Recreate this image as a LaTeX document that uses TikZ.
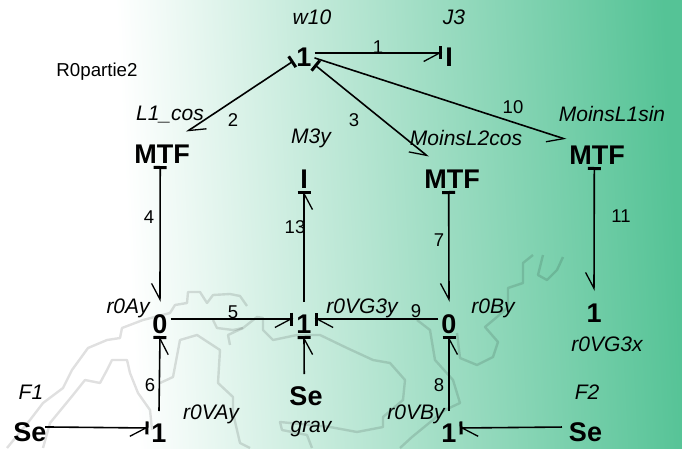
\documentclass[tikz,border=0pt]{standalone}
\usepackage{fontspec}
\setmainfont{Liberation Sans}
\usetikzlibrary{arrows.meta}
\definecolor{mapgreen}{RGB}{85,195,150}
\pgfdeclarehorizontalshading{panelbg}{100bp}{color(0bp)=(white);color(34bp)=(white);color(75bp)=(mapgreen);color(100bp)=(mapgreen)}

\begin{document}
\begin{tikzpicture}[
  x=1pt,y=-1pt,
  stroke/.tip={Bar[width=13pt,line width=3pt,length=0pt]},
  barb/.tip={Straight Barb[harpoon,swap,length=16pt,width=17pt,line width=1.3pt]},
  barbl/.tip={Straight Barb[harpoon,length=16pt,width=17pt,line width=1.3pt]},
  elem/.style={inner sep=0pt,outer sep=3pt,anchor=south,yshift=-3pt,text height=28pt,text depth=0pt,
               font=\bfseries\fontsize{27}{27}\selectfont},
  lab/.style={inner sep=0pt,font=\itshape\fontsize{21}{21}\selectfont},
  num/.style={inner sep=0pt,font=\fontsize{18.5}{18.5}\selectfont},
  bond/.style={line width=1.6pt,-{barb}},
  bondl/.style={line width=1.6pt,-{barbl}},
  bondbar/.style={line width=1.6pt,-{barb[sep=-3pt]stroke}},
  bondlbar/.style={line width=1.6pt,-{barbl[sep=-3pt]stroke}},
  contour/.style={draw=black,opacity=0.12,line width=2.4pt,line join=round}
]

% ---- background ----
\shade[shading=panelbg,shading angle=3] (0,0) rectangle (682,448);
\draw[contour] (7,448) -- (30,420) -- (43,403) -- (63,388) -- (72,370) -- (88,348) -- (107,340)
  -- (120,338) -- (122,328) -- (143,320) -- (170,313) -- (175,305) -- (187,303) -- (188,292)
  -- (200,292) -- (207,303) -- (213,295) -- (230,294) -- (240,296) -- (247,306);
\draw[contour] (43,448) -- (50,423) -- (73,395) -- (85,380) -- (100,383) -- (107,370) -- (112,360)
  -- (127,360) -- (130,373) -- (138,393) -- (150,410) -- (152,430);
\draw[contour] (160,383) -- (173,377) -- (180,340) -- (197,335) -- (220,350) -- (218,383)
  -- (233,397) -- (233,413) -- (240,443) -- (250,448);
\draw[contour] (213,320) -- (217,328) -- (233,330) -- (243,328) -- (257,317) -- (263,318)
  -- (263,330) -- (273,340) -- (297,335) -- (320,335) -- (347,348) -- (373,360) -- (390,363)
  -- (405,380) -- (403,400) -- (383,417) -- (383,427) -- (357,432) -- (330,427) -- (280,422)
  -- (282,430) -- (307,435) -- (312,448);
\draw[contour] (230,345) -- (228,335) -- (243,328);
\draw[contour] (417,320) -- (430,330) -- (435,360) -- (453,380) -- (460,403) -- (445,410)
  -- (412,437) -- (400,448);
\draw[contour] (533,255) -- (523,263) -- (523,283) -- (508,288) -- (508,307) -- (497,317)
  -- (485,327) -- (498,342) -- (493,357) -- (477,365) -- (460,358) -- (457,333);
\draw[contour] (543,255) -- (538,275) -- (547,280) -- (557,270) -- (563,257);

% ---- elements ----
\node[elem] (top1) at (304,67) {1};
\node[elem] (J3el) at (449,67) {I};
\node[elem] (mtfA) at (162,163) {MTF};
\node[elem] (M3el) at (304,188) {I};
\node[elem] (mtfB) at (452,188) {MTF};
\node[elem] (mtfC) at (597,164) {MTF};
\node[elem] (zeroA) at (160,333) {0};
\node[elem] (midone) at (304,333) {1};
\node[elem] (zeroB) at (449,333) {0};
\node[elem] (oneG3x) at (594,322) {1};
\node[elem] (seF1) at (30,441) {Se};
\node[elem] (oneA) at (159,442) {1};
\node[elem] (seG) at (306,405) {Se};
\node[elem] (oneB) at (449,442) {1};
\node[elem] (seF2) at (585.5,441) {Se};

% ---- names ----
\node[inner sep=0pt,font=\fontsize{18.7}{18.7}\selectfont] (titre) at (97,72) {R0partie2};
\node[lab] (w10) at (312,17) {w10};
\node[lab] (J3) at (454,17) {J3};
\node[lab] (L1cos) at (170,115) {L1\_cos};
\node[lab] (M3y) at (311,138) {M3y};
\node[lab] (L2cos) at (466,138) {MoinsL2cos};
\node[lab] (L1sin) at (612,114) {MoinsL1sin};
\node[lab] (r0Ay) at (128,308) {r0Ay};
\node[lab] (r0VG3y) at (362,308) {r0VG3y};
\node[lab] (r0By) at (493,308) {r0By};
\node[lab] (r0VG3x) at (607,344) {r0VG3x};
\node[lab] (F1) at (31,392) {F1};
\node[lab] (F2) at (587,392) {F2};
\node[lab] (r0VAy) at (211,414) {r0VAy};
\node[lab] (r0VBy) at (416,414) {r0VBy};
\node[lab] (grav) at (311,429) {grav};

% ---- bond numbers ----
\node[num] (n1) at (378,47) {1};
\node[num] (n2) at (233,120) {2};
\node[num] (n3) at (354,120) {3};
\node[num] (n4) at (149,217) {4};
\node[num] (n5) at (233,312) {5};
\node[num] (n6) at (150,385) {6};
\node[num] (n7) at (439,240) {7};
\node[num] (n8) at (439,385) {8};
\node[num] (n9) at (416,311) {9};
\node[num] (n10) at (513,107) {10};
\node[num] (n11) at (621,216) {11};
\node[num] (n13) at (295,227) {13};

% ---- bonds ----
\draw[bondbar] (top1.east) -- (J3el.west);
\draw[bondl,{stroke}-{barbl}] (top1.217) -- (mtfA.35);
\draw[bond,{stroke}-{barb}] (top1.-48) -- (mtfB.144);
\draw[bond] (top1.-25) -- (mtfC.161);
\draw[bond,{stroke}-{barb}] (mtfA.-96) -- (zeroA.north);
\draw[bond,{stroke}-{barb}] (mtfB.-101) -- (zeroB.north);
\draw[bond,{stroke}-{barb}] (mtfC.-99) -- (oneG3x.north);
\draw[bondbar] (zeroA.east) -- (midone.west);
\draw[bondlbar] (zeroB.west) -- (midone.east);
\draw[bondbar] (midone.north) -- (M3el.south);
\draw[bondbar] (seG.96) -- (midone.south);
\draw[bondbar] (oneA.north) -- (zeroA.south);
\draw[bondbar] (oneB.north) -- (zeroB.south);
\draw[bondbar,shorten <=-4.5pt] (seF1.east) -- (oneA.west);
\draw[bondlbar,shorten <=4pt] (seF2.west) -- (oneB.east);

\end{tikzpicture}
\end{document}
